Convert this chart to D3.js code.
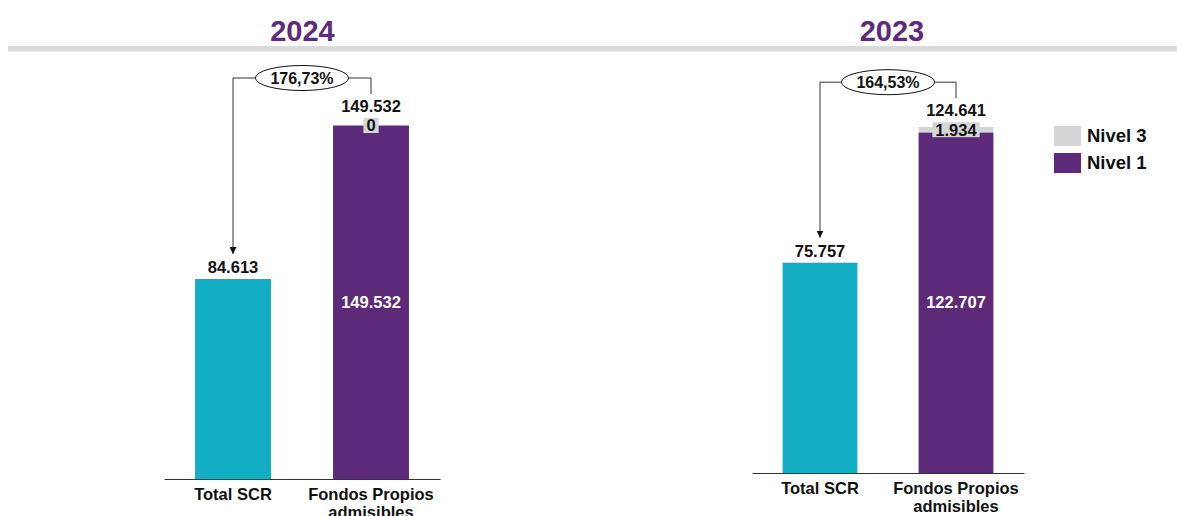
<!DOCTYPE html>
<html><head><meta charset="utf-8">
<script src="https://cdn.jsdelivr.net/npm/d3@7"></script>
<style>
html,body{margin:0;padding:0;background:#fff;}
svg{display:block;font-family:"Liberation Sans",Arial,sans-serif;}
</style></head>
<body>
<svg id="chart" width="1177" height="516"></svg>
<script>
// ---- data ----
const years = ["2024", "2023"];
const categories = ["Total SCR", "Fondos Propios admisibles"];
const scr = [84613, 75757];
const nivel1 = [149532, 122707];
const nivel3 = [0, 1934];
const ratios = [1.7673, 1.6453];
const legendLabels = ["Nivel 3", "Nivel 1"];

// ---- layout ----
const panelX = [[164, 440], [752, 1024]];
const baseY = [479, 473];
const topY = [125.5, 127];
const titleX = [302.5, 892];
const colors = {scr: "#13adc4", n1: "#5c2a78", n3: "#d5d6d8", title: "#5d2a7e", line: "#333"};

const loc = d3.formatLocale({decimal: ",", thousands: ".", grouping: [3], currency: ["", "€"]});
const fmt = loc.format(",d");
const pct = loc.format(".2%");

const svg = d3.select("#chart");
svg.append("defs").append("marker")
  .attr("id", "arr").attr("viewBox", "0 0 10 10").attr("refX", 10).attr("refY", 5)
  .attr("markerWidth", 7).attr("markerHeight", 7).attr("markerUnits", "userSpaceOnUse")
  .attr("orient", "auto")
  .append("path").attr("d", "M0,0L10,5L0,10Z").attr("fill", "#111");

// separator
svg.append("rect").attr("x", 8).attr("y", 46).attr("width", 1169).attr("height", 5.5).attr("fill", "#d9dadc");

years.forEach((yr, i) => {
  const g = svg.append("g");
  // title
  g.append("text").attr("x", titleX[i]).attr("y", 41).attr("text-anchor", "middle")
    .attr("font-size", 29).attr("font-weight", "bold").attr("fill", colors.title).text(yr);

  const x = d3.scaleBand().domain(categories).range(panelX[i]).paddingInner(0.45).paddingOuter(0.225);
  const total = nivel1[i] + nivel3[i];
  const y = d3.scaleLinear().domain([0, total]).range([baseY[i], topY[i]]);
  const bw = x.bandwidth();

  // axis
  const ax = g.append("g").attr("transform", `translate(0,${baseY[i]})`)
    .call(d3.axisBottom(x).tickSize(0).tickFormat(""));
  ax.select(".domain").attr("stroke", colors.line).attr("stroke-width", 1.2);
  ax.selectAll(".tick").each(function(d) {
    const t = d3.select(this).append("text").attr("fill", "#111").attr("font-size", 16.5)
      .attr("font-weight", "bold").attr("text-anchor", "middle").attr("font-family", "Liberation Sans, Arial, sans-serif");
    const words = d === "Total SCR" ? [d] : ["Fondos Propios", "admisibles"];
    words.forEach((w, k) => t.append("tspan").attr("x", 0).attr("y", 21 + k * 18).text(w));
  });

  // bars
  const xs = x(categories[0]), xf = x(categories[1]);
  g.append("rect").attr("x", xs).attr("width", bw).attr("y", y(scr[i])).attr("height", y(0) - y(scr[i])).attr("fill", colors.scr);
  g.append("rect").attr("x", xf).attr("width", bw).attr("y", y(nivel1[i])).attr("height", y(0) - y(nivel1[i])).attr("fill", colors.n1);
  g.append("rect").attr("x", xf).attr("width", bw).attr("y", y(total)).attr("height", y(nivel1[i]) - y(total)).attr("fill", colors.n3);

  const cs = xs + bw / 2, cf = xf + bw / 2;
  // scr label
  const scrBase = y(scr[i]) - 6;
  g.append("text").attr("x", cs).attr("y", scrBase).attr("text-anchor", "middle").attr("font-size", 16.5)
    .attr("font-weight", "bold").attr("fill", "#111").text(fmt(scr[i]));
  // nivel1 inside label
  g.append("text").attr("x", cf).attr("y", (y(0) + y(nivel1[i])) / 2).attr("dy", "0.35em").attr("text-anchor", "middle")
    .attr("font-size", 16.5).attr("font-weight", "bold").attr("fill", "#fff").text(fmt(nivel1[i]));
  // nivel3 label with box
  const mid3 = (y(nivel1[i]) + y(total)) / 2;
  const t3 = g.append("text").attr("x", cf).attr("y", mid3).attr("dy", "0.36em").attr("text-anchor", "middle")
    .attr("font-size", 16.5).attr("font-weight", "bold").attr("fill", "#111").text(fmt(nivel3[i]));
  const w3 = t3.node().getComputedTextLength();
  g.insert("rect", () => t3.node()).attr("x", cf - w3 / 2 - 3).attr("y", mid3 - 7.5).attr("width", w3 + 6).attr("height", 15).attr("fill", colors.n3);
  // total label
  const totBase = mid3 - 7.5 - 6;
  g.append("text").attr("x", cf).attr("y", totBase).attr("text-anchor", "middle").attr("font-size", 16.5)
    .attr("font-weight", "bold").attr("fill", "#111").text(fmt(total));

  // connector
  const ey = totBase - 34, ex = (cs + cf) / 2;
  const pt = g.append("text").attr("x", ex).attr("y", ey).attr("dy", "0.36em").attr("text-anchor", "middle")
    .attr("font-size", 16).attr("font-weight", "bold").attr("fill", "#111").text(pct(ratios[i]));
  const rx = pt.node().getComputedTextLength() / 2 + 15, ry = 12.5;
  g.insert("ellipse", () => pt.node()).attr("cx", ex).attr("cy", ey).attr("rx", rx).attr("ry", ry)
    .attr("fill", "#fff").attr("stroke", "#111").attr("stroke-width", 1);
  g.append("path").attr("d", `M${ex - rx},${ey}H${cs}V${scrBase - 19}`).attr("fill", "none")
    .attr("stroke", colors.line).attr("stroke-width", 1).attr("marker-end", "url(#arr)");
  g.append("path").attr("d", `M${ex + rx},${ey}H${cf}V${totBase - 18}`).attr("fill", "none")
    .attr("stroke", colors.line).attr("stroke-width", 1);
});

// legend
const lg = svg.append("g").attr("transform", "translate(1054,126)");
const lc = [colors.n3, colors.n1];
legendLabels.forEach((l, k) => {
  lg.append("rect").attr("x", 0).attr("y", k * 27).attr("width", 27).attr("height", 20).attr("fill", lc[k]);
  lg.append("text").attr("x", 33).attr("y", k * 27 + 16).attr("font-size", 18.5).attr("font-weight", "bold").attr("fill", "#111").text(l);
});
</script>
</body></html>
